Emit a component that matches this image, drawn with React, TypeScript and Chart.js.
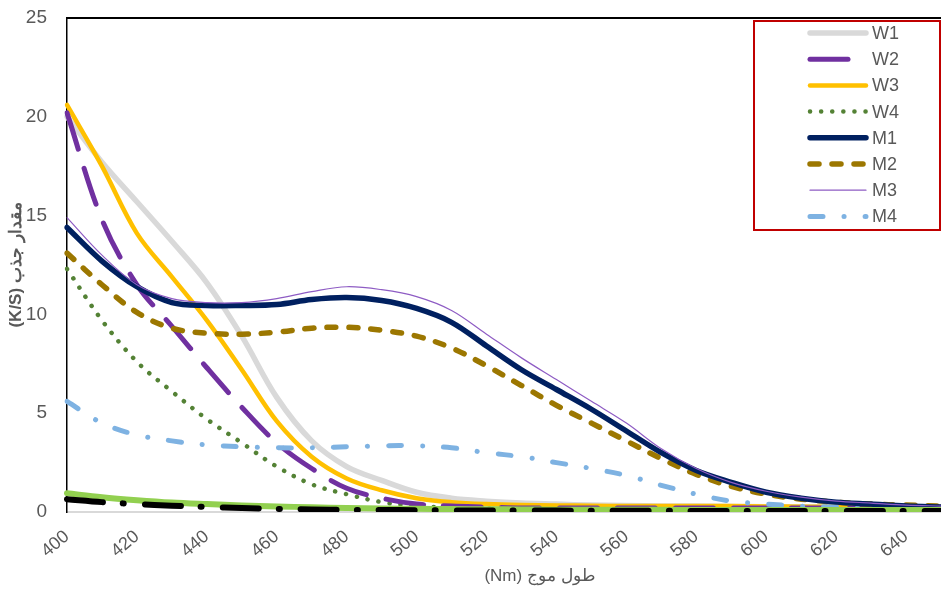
import React, { useEffect, useRef } from 'react';
import { Chart, registerables } from 'chart.js';

Chart.register(...registerables);

const wavelengths = [400, 410, 420, 430, 440, 450, 460, 470, 480, 490, 500, 510, 520, 530, 540, 550, 560, 570, 580, 590, 600, 610, 620, 630, 640, 650];

const W1 = [20.0, 17.7, 15.7, 13.7, 11.6, 8.9, 5.8, 3.6, 2.3, 1.6, 1.0, 0.7, 0.55, 0.45, 0.4, 0.35, 0.33, 0.3, 0.3, 0.28, 0.27, 0.26, 0.25, 0.25, 0.24, 0.24];
const W2 = [20.2, 14.8, 11.5, 9.4, 7.3, 5.3, 3.5, 2.2, 1.2, 0.7, 0.4, 0.3, 0.25, 0.2, 0.2, 0.2, 0.2, 0.2, 0.2, 0.2, 0.2, 0.2, 0.2, 0.2, 0.2, 0.2];
const W3 = [20.6, 17.5, 14.1, 11.9, 9.7, 7.2, 4.6, 2.8, 1.7, 1.1, 0.7, 0.5, 0.4, 0.35, 0.33, 0.32, 0.3, 0.3, 0.3, 0.3, 0.28, 0.27, 0.26, 0.25, 0.25, 0.25];
const W4 = [12.3, 9.7, 7.6, 6.1, 4.7, 3.5, 2.3, 1.4, 0.9, 0.5, 0.3, 0.22, 0.18, 0.15, 0.15, 0.15, 0.15, 0.15, 0.15, 0.15, 0.15, 0.15, 0.15, 0.15, 0.15, 0.15];
const M1 = [14.4, 12.7, 11.4, 10.6, 10.45, 10.45, 10.5, 10.75, 10.85, 10.7, 10.3, 9.6, 8.4, 7.2, 6.2, 5.2, 4.1, 3.0, 2.1, 1.5, 1.0, 0.7, 0.5, 0.4, 0.3, 0.25];
const M2 = [13.1, 11.5, 10.1, 9.3, 9.05, 9.0, 9.1, 9.3, 9.35, 9.2, 8.9, 8.3, 7.4, 6.4, 5.4, 4.5, 3.6, 2.7, 1.9, 1.3, 0.9, 0.65, 0.5, 0.4, 0.35, 0.3];
const M3 = [14.9, 13.0, 11.5, 10.8, 10.6, 10.6, 10.8, 11.15, 11.4, 11.25, 10.9, 10.2, 9.0, 7.8, 6.7, 5.6, 4.5, 3.2, 2.2, 1.5, 1.05, 0.75, 0.55, 0.45, 0.35, 0.3];
const M4 = [5.6, 4.5, 3.9, 3.6, 3.4, 3.3, 3.25, 3.25, 3.3, 3.35, 3.35, 3.25, 3.0, 2.8, 2.5, 2.2, 1.85, 1.35, 0.9, 0.55, 0.4, 0.3, 0.25, 0.2, 0.2, 0.2];
const extraGreen = [0.95, 0.75, 0.6, 0.48, 0.4, 0.33, 0.28, 0.24, 0.2, 0.18, 0.16, 0.15, 0.14, 0.13, 0.12, 0.12, 0.11, 0.11, 0.1, 0.1, 0.1, 0.1, 0.1, 0.1, 0.1, 0.1];
const extraBlack = [0.65, 0.5, 0.4, 0.32, 0.26, 0.2, 0.16, 0.13, 0.11, 0.1, 0.09, 0.08, 0.08, 0.07, 0.07, 0.06, 0.06, 0.06, 0.05, 0.05, 0.05, 0.05, 0.05, 0.05, 0.05, 0.05];

const yTicks = [0, 5, 10, 15, 20, 25];
const xTitle = '(Nm) طول موج';
const yTitle = '(K/S) مقدار جذب';

const FONT = "'Liberation Sans', Arial, sans-serif";
const GRAY = '#595959';

const legendPlugin = {
  id: 'customLegend',
  afterDraw(chart: any) {
    const ctx = chart.ctx;
    ctx.save();
    const bx = 754, by = 21, bw = 186, bh = 209;
    ctx.fillStyle = '#ffffff';
    ctx.fillRect(bx, by, bw, bh);
    ctx.strokeStyle = '#C00000';
    ctx.lineWidth = 2;
    ctx.setLineDash([]);
    ctx.strokeRect(bx, by, bw, bh);
    const items = chart.data.datasets.filter((d: any) => d.inLegend);
    items.forEach((ds: any, i: number) => {
      const y = 33 + i * 26.2;
      ctx.beginPath();
      ctx.strokeStyle = ds.borderColor;
      ctx.lineWidth = ds.borderWidth;
      ctx.lineCap = ds.borderCapStyle || 'butt';
      ctx.setLineDash(ds.borderDash || []);
      ctx.moveTo(810, y);
      ctx.lineTo(866, y);
      ctx.stroke();
      ctx.setLineDash([]);
      ctx.fillStyle = GRAY;
      ctx.font = `18px ${FONT}`;
      ctx.textAlign = 'left';
      ctx.textBaseline = 'middle';
      ctx.fillText(ds.label, 872, y + 1);
    });
    ctx.restore();
  },
};

const framePlugin = {
  id: 'frame',
  afterDraw(chart: any) {
    const { ctx, chartArea } = chart;
    ctx.save();
    ctx.strokeStyle = '#000000';
    ctx.lineWidth = 2;
    ctx.beginPath();
    ctx.moveTo(chartArea.left, chartArea.top);
    ctx.lineTo(chartArea.right, chartArea.top);
    ctx.stroke();
    ctx.fillStyle = GRAY;
    ctx.font = `17px ${FONT}`;
    ctx.textAlign = 'center';
    ctx.textBaseline = 'middle';
    ctx.fillText(xTitle, 540, 576);
    ctx.restore();
  },
};

export default function App() {
  const ref = useRef<HTMLCanvasElement | null>(null);
  useEffect(() => {
    document.body.style.margin = '0';
    if (!ref.current) return;
    const mk = (label: string, data: number[], color: string, width: number, dash: number[] | undefined, cap: string, inLegend: boolean) => ({
      label,
      data,
      borderColor: color,
      backgroundColor: color,
      borderWidth: width,
      borderDash: dash,
      borderCapStyle: cap,
      borderJoinStyle: 'round',
      tension: 0.35,
      pointRadius: 0,
      fill: false,
      inLegend,
    });
    const datasets: any[] = [
      mk('Black', extraBlack, '#000000', 6, [36, 20, 1, 21], 'round', false),
      mk('Green', extraGreen, '#92D050', 6, undefined, 'round', false),
      mk('W1', W1, '#D9D9D9', 5.5, undefined, 'round', true),
      mk('W2', W2, '#7030A0', 5, [38, 20], 'round', true),
      mk('W3', W3, '#FFC000', 4.5, undefined, 'round', true),
      mk('W4', W4, '#548235', 4.5, [0.1, 11], 'round', true),
      mk('M1', M1, '#002060', 5.5, undefined, 'round', true),
      mk('M2', M2, '#9C7700', 5.5, [9, 13], 'round', true),
      mk('M3', M3, '#8E5CC4', 1.2, undefined, 'round', true),
      mk('M4', M4, '#7EB2E2', 5, [13, 21, 0.1, 21], 'round', true),
    ];
    const legendOrder = ['W1', 'W2', 'W3', 'W4', 'M1', 'M2', 'M3', 'M4'];
    datasets.sort((a, b) => {
      const ia = a.inLegend ? legendOrder.indexOf(a.label) : -1;
      const ib = b.inLegend ? legendOrder.indexOf(b.label) : -1;
      return ia - ib;
    });
    const rank = ['Black', 'Green', 'M3', 'M1', 'M2', 'M4', 'W2', 'W3', 'W1', 'W4'];
    datasets.forEach((d) => {
      d.order = rank.indexOf(d.label);
    });
    const chart = new Chart(ref.current, {
      type: 'line',
      data: { labels: wavelengths.map(String), datasets },
      options: {
        responsive: false,
        animation: false,
        layout: { padding: { top: 18, right: 0, left: 0, bottom: 0 } },
        plugins: { legend: { display: false }, tooltip: { enabled: false } },
        elements: { point: { radius: 0 } },
        scales: {
          x: {
            type: 'category',
            offset: false,
            grid: { display: false, drawTicks: false },
            border: { display: true, color: '#D9D9D9', width: 2 },
            ticks: {
              autoSkip: false,
              maxRotation: 40,
              minRotation: 40,
              padding: 14,
              color: GRAY,
              font: { family: FONT, size: 18 },
              callback: function (this: any, v: any, i: number) {
                return i % 2 === 0 ? this.getLabelForValue(v) : '';
              },
            },
            afterFit: (s: any) => {
              s.height = 78;
              s.paddingLeft = 0;
              s.paddingRight = 0;
            },
          },
          y: {
            min: 0,
            max: 25,
            afterBuildTicks: (s: any) => { s.ticks = yTicks.map((v) => ({ value: v })); },
            grid: { display: false, drawTicks: false },
            border: { display: true, color: '#000000', width: 1.5 },
            ticks: { padding: 20, color: GRAY, font: { family: FONT, size: 19 } },
            title: {
              display: true,
              text: yTitle,
              color: GRAY,
              font: { family: FONT, size: 17, weight: 'bold' },
              padding: { top: 6, bottom: 0 },
            },
            afterFit: (s: any) => {
              s.width = 67;
              s.paddingTop = 0;
              s.paddingBottom = 0;
            },
          },
        },
      },
      plugins: [framePlugin, legendPlugin],
    } as any);
    return () => chart.destroy();
  }, []);
  return (
    <div style={{ position: 'absolute', left: 0, top: 0, width: 941, height: 590, background: '#fff' }}>
      <canvas ref={ref} width={941} height={590} style={{ display: 'block' }} />
    </div>
  );
}
